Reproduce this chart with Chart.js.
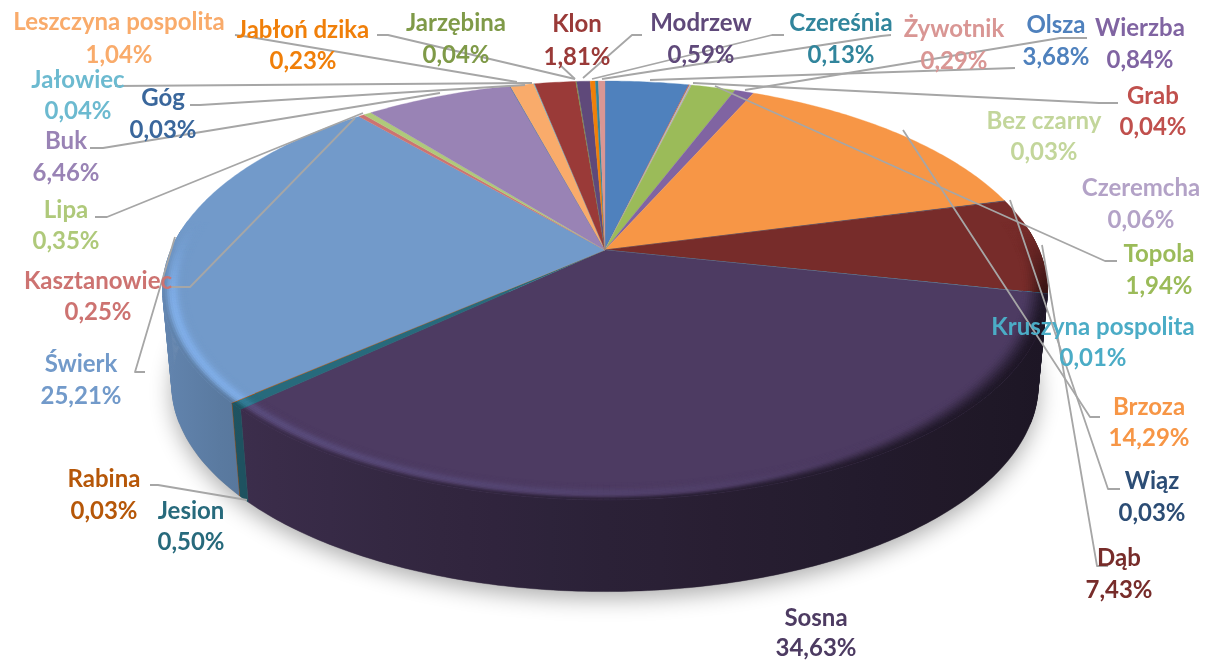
<!DOCTYPE html>
<html lang="pl">
<head>
<meta charset="utf-8">
<title>Udział gatunków drzew</title>
<style>html,body{margin:0;padding:0;background:#fff}canvas{display:block}</style>
<script src="https://cdn.jsdelivr.net/npm/chart.js@4"></script>
</head>
<body>
<canvas id="c" width="1208" height="662"></canvas>
<script>
const categories = ["Olsza","Grab","Bez czarny","Czeremcha","Topola","Wierzba","Brzoza","Wiąz","Dąb","Kruszyna pospolita","Sosna","Jesion","Rabina","Świerk","Kasztanowiec","Lipa","Buk","Góg","Leszczyna pospolita","Jałowiec","Klon","Jarzębina","Modrzew","Jabłoń dzika","Czereśnia","Żywotnik"];
const shares = [3.68,0.04,0.03,0.06,1.94,0.84,14.29,0.03,7.43,0.01,34.63,0.50,0.03,25.21,0.25,0.35,6.46,0.03,1.04,0.04,1.81,0.04,0.59,0.23,0.13,0.29];
const sliceColors = ["#4F81BD","#C0504D","#C3D69B","#B3A2C7","#9BBB59","#8064A2","#F79646","#2C4D75","#772C2A","#4BACC6","#4D3B62","#276A7C","#B65708","#729ACA","#CD7371","#AFC97A","#9983B5","#3A679C","#F9AB6B","#6CBAD0","#9A3A38","#7F9A48","#5F497A","#F07F09","#31859C","#D99694"];
const labelColors = sliceColors.slice();

// label placement: [centre x, name y, percent y]
const labelPlaces = [[1056,25,57],[1153,96,127],[1044,121,152],[1141,188,220],[1159,254,286],[1140,28,60],[1149,407,438],[1152,481,513],[1119,558,590],[1093,327,358],[816,618,648],[191,511,542],[104,479,511],[81,364,396],[98,281,312],[66,210,241],[66,141,173],[163,98,130],[119,22,55],[78,80,111],[577,24,57],[456,23,55],[701,23,55],[303,30,61],[841,23,55],[954,29,61]];
// leader polylines, drawn by the label layer
const leaders = [
 [[1015,68],[650,80]],
 [[1118,103],[1099,103],[693,83]],
 [[1117,261],[1105,261],[715,86]],
 [[1087,38],[1060,38],[745,90]],
 [[1100,417],[1090,417],[903,130]],
 [[1120,489],[1108,489],[1010,200]],
 [[1108,566],[1097,566],[1042,245]],
 [[145,372],[135,372],[175,237]],
 [[170,287],[190,287],[355,118]],
 [[95,217],[107,217],[363,113]],
 [[90,148],[103,148],[440,93]],
 [[190,105],[200,105],[525,85]],
 [[115,86],[532,83]],
 [[235,35],[250,37],[517,82]],
 [[377,35],[388,35],[575,79]],
 [[560,65],[575,79]],
 [[642,35],[632,35],[583,78]],
 [[784,35],[772,35],[592,79]],
 [[891,35],[881,36],[602,79]],
 [[150,485],[158,485],[247,500]]
];

const K = 0.193;
function topPt(r,a){const u=r*Math.cos(a),v=r*Math.sin(a),w=1-K*v;return [605+434*u/w,250+201.6*v/w];}
function botPt(r,a){const u=r*Math.cos(a),v=r*Math.sin(a),w=1-K*v;return [605+425*u/w,345+199*v/w];}
const hex=h=>[parseInt(h.slice(1,3),16),parseInt(h.slice(3,5),16),parseInt(h.slice(5,7),16)];
const rgb=c=>`rgb(${c.map(x=>Math.max(0,Math.min(255,Math.round(x)))).join(",")})`;
const clamp=x=>Math.max(0,Math.min(1,x));
const smooth=x=>{x=clamp(x);return x*x*(3-2*x);};
function sideShade(x){const t=clamp((x-165)/880);return 0.86-0.48*Math.pow(t,0.7);}

function poly(ctx,pts,col,lw){ctx.beginPath();pts.forEach((p,i)=>i?ctx.lineTo(p[0],p[1]):ctx.moveTo(p[0],p[1]));ctx.closePath();ctx.fillStyle=col;ctx.strokeStyle=col;ctx.lineWidth=lw;ctx.fill();ctx.stroke();}

// The library still computes every slice's angles; only the projection of the arc differs.
Chart.ArcElement.prototype.draw = function(ctx){
  const a0=this.startAngle,a1=this.endAngle,base=hex(this.options.backgroundColor);
  const n=Math.max(2,Math.ceil((a1-a0)/0.012));
  ctx.save();
  const body=[[605,250]];
  for(let i=0;i<=n;i++)body.push(topPt(1,a0+(a1-a0)*i/n));
  poly(ctx,body,rgb(base),0.35);
  const B=12,inner=0.945;
  for(let i=0;i<n;i++){
    const s=a0+(a1-a0)*i/n,e=a0+(a1-a0)*(i+1)/n,mid=(s+e)/2;
    const vis=smooth((Math.sin(mid)+0.15)/0.45);
    if(vis<=0)continue;
    const x=topPt(1,mid)[0];
    const side=sideShade(x);
    const light=clamp(1-(x-165)/700);
    const right=clamp((x-700)/300);
    for(let b=0;b<B;b++){
      const t=(b+0.5)/B;
      const r0=inner+(1-inner)*b/B,r1=inner+(1-inner)*(b+1)/B;
      const h=Math.exp(-Math.pow((t-0.6)/0.22,2))*light*vis;
      const start=0.72-0.7*right;
      const d=smooth((t-start)/(1-start))*vis;
      const c=base.map((v,k)=>{
        const lit=v+[14,20,30][k]*h;
        return lit*(1-d)+v*side*d;
      });
      poly(ctx,[topPt(r0,s),topPt(r1,s),topPt(r1,e),topPt(r0,e)],rgb(c),0.5);
    }
  }
  ctx.restore();
};

const pie3d = {
  id:"pie3d",
  beforeDatasetsDraw(chart){
    const ctx=chart.ctx,arcs=chart.getDatasetMeta(0).data;
    ctx.save();
    // ground shadow, front half only
    ctx.save();
    ctx.beginPath();ctx.rect(0,292,chart.width,chart.height-292);ctx.clip();
    ctx.beginPath();
    for(let i=0;i<=240;i++){const p=botPt(1,i/240*2*Math.PI);i?ctx.lineTo(p[0],p[1]):ctx.moveTo(p[0],p[1]);}
    ctx.closePath();
    ctx.shadowColor="rgba(0,0,0,0.32)";ctx.shadowBlur=22;ctx.shadowOffsetY=7;ctx.fillStyle="#888";ctx.fill();
    ctx.restore();
    // side wall: a polygon per slice, plus quads where the wall's silhouette turns
    const grad=(base)=>{
      const g=ctx.createLinearGradient(165,0,1045,0);
      for(let j=0;j<=16;j++){const x=165+880*j/16;g.addColorStop(j/16,rgb(base.map(v=>v*sideShade(x))));}
      return g;
    };
    arcs.forEach(arc=>{
      const a0=Math.max(arc.startAngle,-0.1),a1=Math.min(arc.endAngle,Math.PI+0.1);
      if(a1<=a0)return;
      const n=Math.max(2,Math.ceil((a1-a0)/0.012));
      const g=grad(hex(arc.options.backgroundColor));
      const pts=[];
      for(let i=0;i<=n;i++)pts.push(topPt(1,a0+(a1-a0)*i/n));
      for(let i=n;i>=0;i--)pts.push(botPt(1,a0+(a1-a0)*i/n));
      poly(ctx,pts,g,0.4);
      for(let i=0;i<n;i++){
        const s=a0+(a1-a0)*i/n,e=a0+(a1-a0)*(i+1)/n;
        if(Math.abs(Math.cos((s+e)/2))<0.93)continue;
        poly(ctx,[topPt(1,s),topPt(1,e),botPt(1,e),botPt(1,s)],g,0.5);
      }
    });
    ctx.restore();
  },
  afterDatasetsDraw(chart){
    const ctx=chart.ctx;
    ctx.save();
    ctx.strokeStyle="#a6a6a6";ctx.lineWidth=1.8;ctx.lineJoin="round";
    leaders.forEach(l=>{ctx.beginPath();l.forEach((p,i)=>i?ctx.lineTo(p[0],p[1]):ctx.moveTo(p[0],p[1]));ctx.stroke();});
    ctx.font='700 24px Lato, "Open Sans", sans-serif';
    ctx.textAlign="center";ctx.textBaseline="middle";
    categories.forEach((name,i)=>{
      const p=labelPlaces[i];
      ctx.fillStyle=labelColors[i];
      ctx.fillText(name,p[0],p[1]);
      ctx.fillText(shares[i].toFixed(2).replace(".",",")+"%",p[0],p[2]);
    });
    ctx.restore();
  }
};

new Chart(document.getElementById("c"),{
  type:"pie",
  data:{labels:categories,datasets:[{data:shares,backgroundColor:sliceColors,borderWidth:0}]},
  options:{responsive:false,animation:false,plugins:{legend:{display:false},tooltip:{enabled:false}}},
  plugins:[pie3d]
});
</script>
</body>
</html>
